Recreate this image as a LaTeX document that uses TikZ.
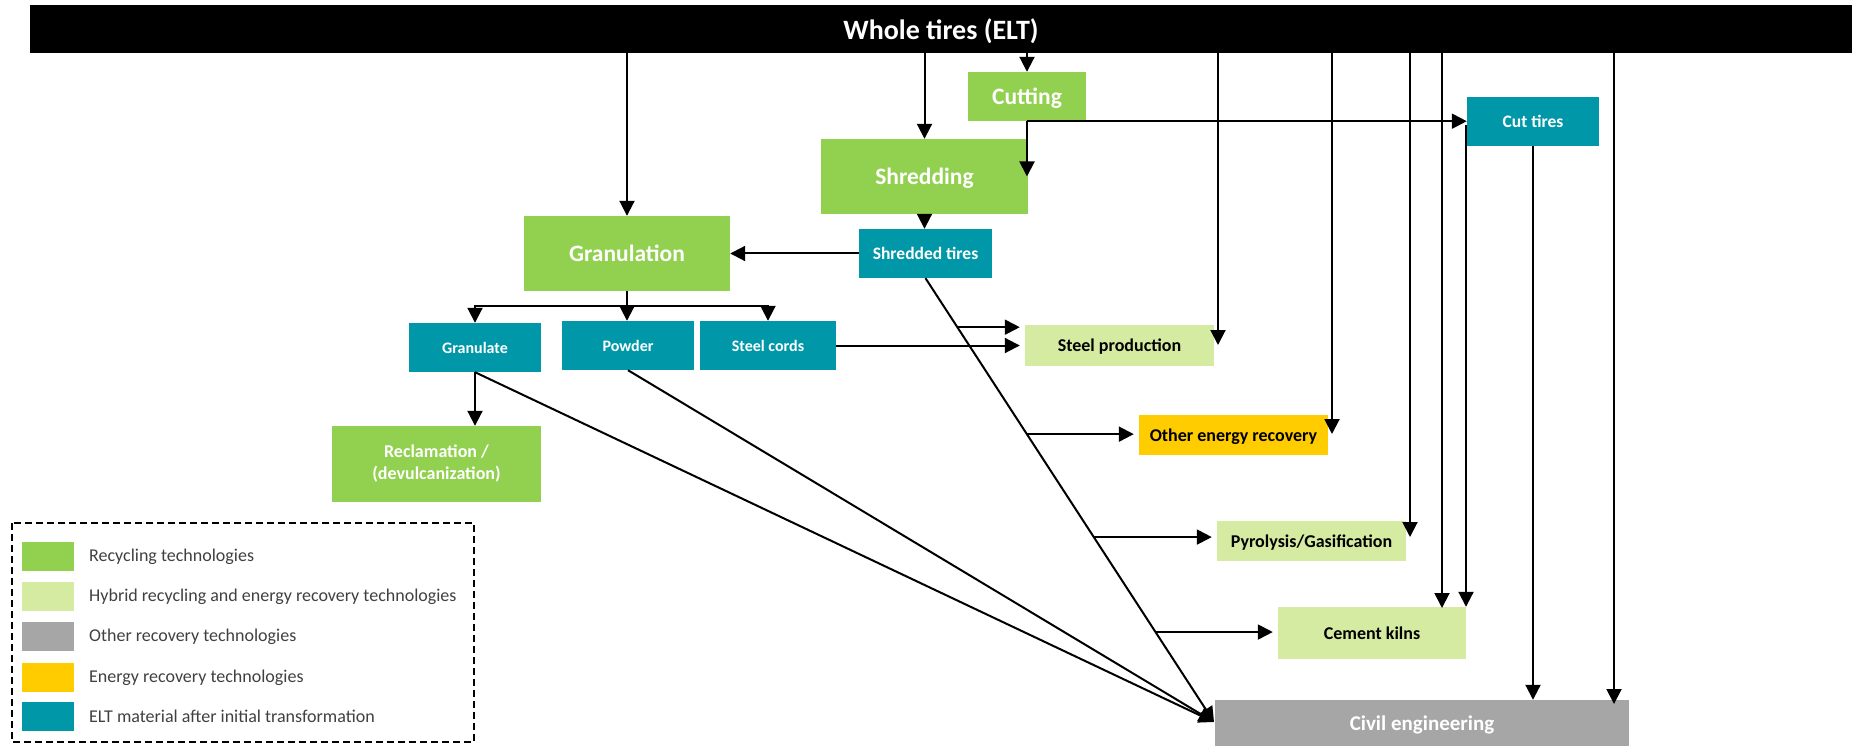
\documentclass[tikz,border=0pt]{standalone}
\usepackage{fontspec}
\setmainfont{Carlito}
\usetikzlibrary{arrows.meta,calc}
\definecolor{cgreen}{HTML}{92D050}
\definecolor{clight}{HTML}{D5EBA2}
\definecolor{cgray}{HTML}{A6A6A6}
\definecolor{cyellow}{HTML}{FFCC00}
\definecolor{cteal}{HTML}{0098A8}
\definecolor{ctext}{HTML}{404040}
\begin{document}
\begin{tikzpicture}[x=1pt,y=-1pt,
  box/.style={inner sep=0pt, align=center},
  onel/.style={text depth=0pt},
  recy/.style={box, fill=cgreen, text=white, font=\fontsize{23.5}{27}\selectfont\bfseries},
  mat/.style={box, onel, fill=cteal, text=white, font=\fontsize{16}{19}\selectfont\bfseries},
  matb/.style={mat, font=\fontsize{17.5}{21}\selectfont\bfseries},
  hyb/.style={box, onel, fill=clight, text=black, font=\fontsize{18}{21}\selectfont\bfseries},
  nrg/.style={box, onel, fill=cyellow, text=black, font=\fontsize{18}{21}\selectfont\bfseries},
  oth/.style={box, onel, fill=cgray, text=white, font=\fontsize{21}{25}\selectfont\bfseries},
  arr/.style={line width=2pt, -{Triangle[length=15pt,width=15pt]}},
  ln/.style={line width=2pt},
  swatch/.style={minimum width=52pt, minimum height=29pt, inner sep=0pt},
  legtext/.style={anchor=west, inner sep=0pt, text=ctext, font=\fontsize{18}{21}\selectfont}
]
\useasboundingbox (0,0) rectangle (1856,746);

% nodes
\node[box, onel, fill=black, text=white, minimum width=1822pt, minimum height=48pt,
      font=\fontsize{28}{32}\selectfont\bfseries] (bar) at (941,29) {Whole tires (ELT)};
\node[recy, onel, minimum width=118pt, minimum height=49pt] (cutting) at (1027,96.5) {Cutting};
\node[recy, onel, minimum width=207pt, minimum height=75pt] (shredding) at (924.5,176.5) {Shredding};
\node[recy, onel, minimum width=206pt, minimum height=75pt] (granulation) at (627,253.5) {Granulation};
\node[matb, minimum width=133pt, minimum height=49pt] (shredded) at (925.5,253.5) {Shredded tires};
\node[matb, minimum width=132pt, minimum height=49pt] (cuttires) at (1533,121.5) {Cut tires};
\node[mat, minimum width=132pt, minimum height=49pt] (granulate) at (475,347.5) {Granulate};
\node[mat, minimum width=132pt, minimum height=49pt] (powder) at (628,345.5) {Powder};
\node[mat, minimum width=136pt, minimum height=49pt] (steelcords) at (768,345.5) {Steel cords};
\node[hyb, minimum width=189pt, minimum height=41pt] (steelprod) at (1119.5,345.5) {Steel production};
\node[nrg, minimum width=189pt, minimum height=40pt] (otherenergy) at (1233.5,435) {Other energy recovery};
\node[hyb, minimum width=189pt, minimum height=40pt] (pyro) at (1311.5,541) {Pyrolysis/Gasification};
\node[hyb, minimum width=188pt, minimum height=52pt] (cement) at (1372,633) {Cement kilns};
\node[oth, minimum width=414pt, minimum height=46pt] (civil) at (1422,723) {Civil engineering};
\node[recy, minimum width=209pt, minimum height=76pt, font=\fontsize{18}{22}\selectfont\bfseries] (reclam) at (436.5,464) {Reclamation /\\(devulcanization)};

% helper coordinates
\coordinate (cc) at (1214,722);
\coordinate (gb) at (627,306);
\coordinate (v1) at (1218,345);
\coordinate (v2) at (1332,434);
\coordinate (v3) at (1410,537);
\coordinate (v4) at (1442,608);
\coordinate (v5) at (1466,125);
\coordinate (v7) at (1614,704);
\coordinate (b1) at ($(shredded.south)!0.1104!(cc)$);
\coordinate (b2) at ($(shredded.south)!0.3514!(cc)$);
\coordinate (b3) at ($(shredded.south)!0.5833!(cc)$);
\coordinate (b4) at ($(shredded.south)!0.7973!(cc)$);

% connectors from the top bar
\draw[arr] (granulation.north |- bar.south) -- (granulation.north);
\draw[arr] (shredding.north |- bar.south) -- (shredding.north);
\draw[arr] (cutting.north |- bar.south) -- (cutting.north);
\draw[arr] (v1 |- bar.south) -- (v1);
\draw[arr] (v2 |- bar.south) -- (v2);
\draw[arr] (v3 |- bar.south) -- (v3);
\draw[arr] (v4 |- bar.south) -- (v4);
\draw[arr] (v7 |- bar.south) -- (v7);

% cutting
\draw[arr] (cutting.south) -- (cutting.south -| cuttires.west);
\draw[arr] (cutting.south) -- (cutting.south |- shredding.east);
\draw[arr] (v5) -- (v5 |- cement.north);
\draw[arr] (cuttires.south) -- (cuttires.south |- civil.north);

% shredding
\draw[arr] (shredding.south) -- (shredding.south |- shredded.north);
\draw[arr] (shredded.west) -- (granulation.east);
\draw[arr] (shredded.south) -- (cc);
\draw[arr, shorten >=5pt] (b1) -- (b1 -| steelprod.west);
\draw[arr, shorten >=5pt] (b2) -- (b2 -| otherenergy.west);
\draw[arr, shorten >=5pt] (b3) -- (b3 -| pyro.west);
\draw[arr, shorten >=5pt] (b4) -- (b4 -| cement.west);

% granulation
\draw[ln] (granulation.south) -- (gb);
\draw[arr] (gb) -| (granulate.north);
\draw[arr] (gb) -| (steelcords.north);
\draw[arr] (gb) -- (gb |- powder.north);
\draw[arr, shorten >=5pt] (steelcords.east) -- (steelprod.west);
\draw[arr] (granulate.south) -- (granulate.south |- reclam.north);
\draw[arr] (granulate.south) -- (cc);
\draw[arr] (powder.south) -- (cc);

% legend
\draw[line width=1.3pt, dash pattern=on 7pt off 4pt] (12,523) rectangle (474,742);
\node[swatch, fill=cgreen] (s1) at (48,556.5) {};
\node[swatch, fill=clight] (s2) at (48,596.5) {};
\node[swatch, fill=cgray] (s3) at (48,636.5) {};
\node[swatch, fill=cyellow] (s4) at (48,677.5) {};
\node[swatch, fill=cteal] (s5) at (48,716.5) {};
\node[legtext] (l1) at (89,556.5) {Recycling technologies};
\node[legtext] (l2) at (89,596.5) {Hybrid recycling and energy recovery technologies};
\node[legtext] (l3) at (89,636.5) {Other recovery technologies};
\node[legtext] (l4) at (89,677.5) {Energy recovery technologies};
\node[legtext] (l5) at (89,716.5) {ELT material after initial transformation};
\end{tikzpicture}
\end{document}
